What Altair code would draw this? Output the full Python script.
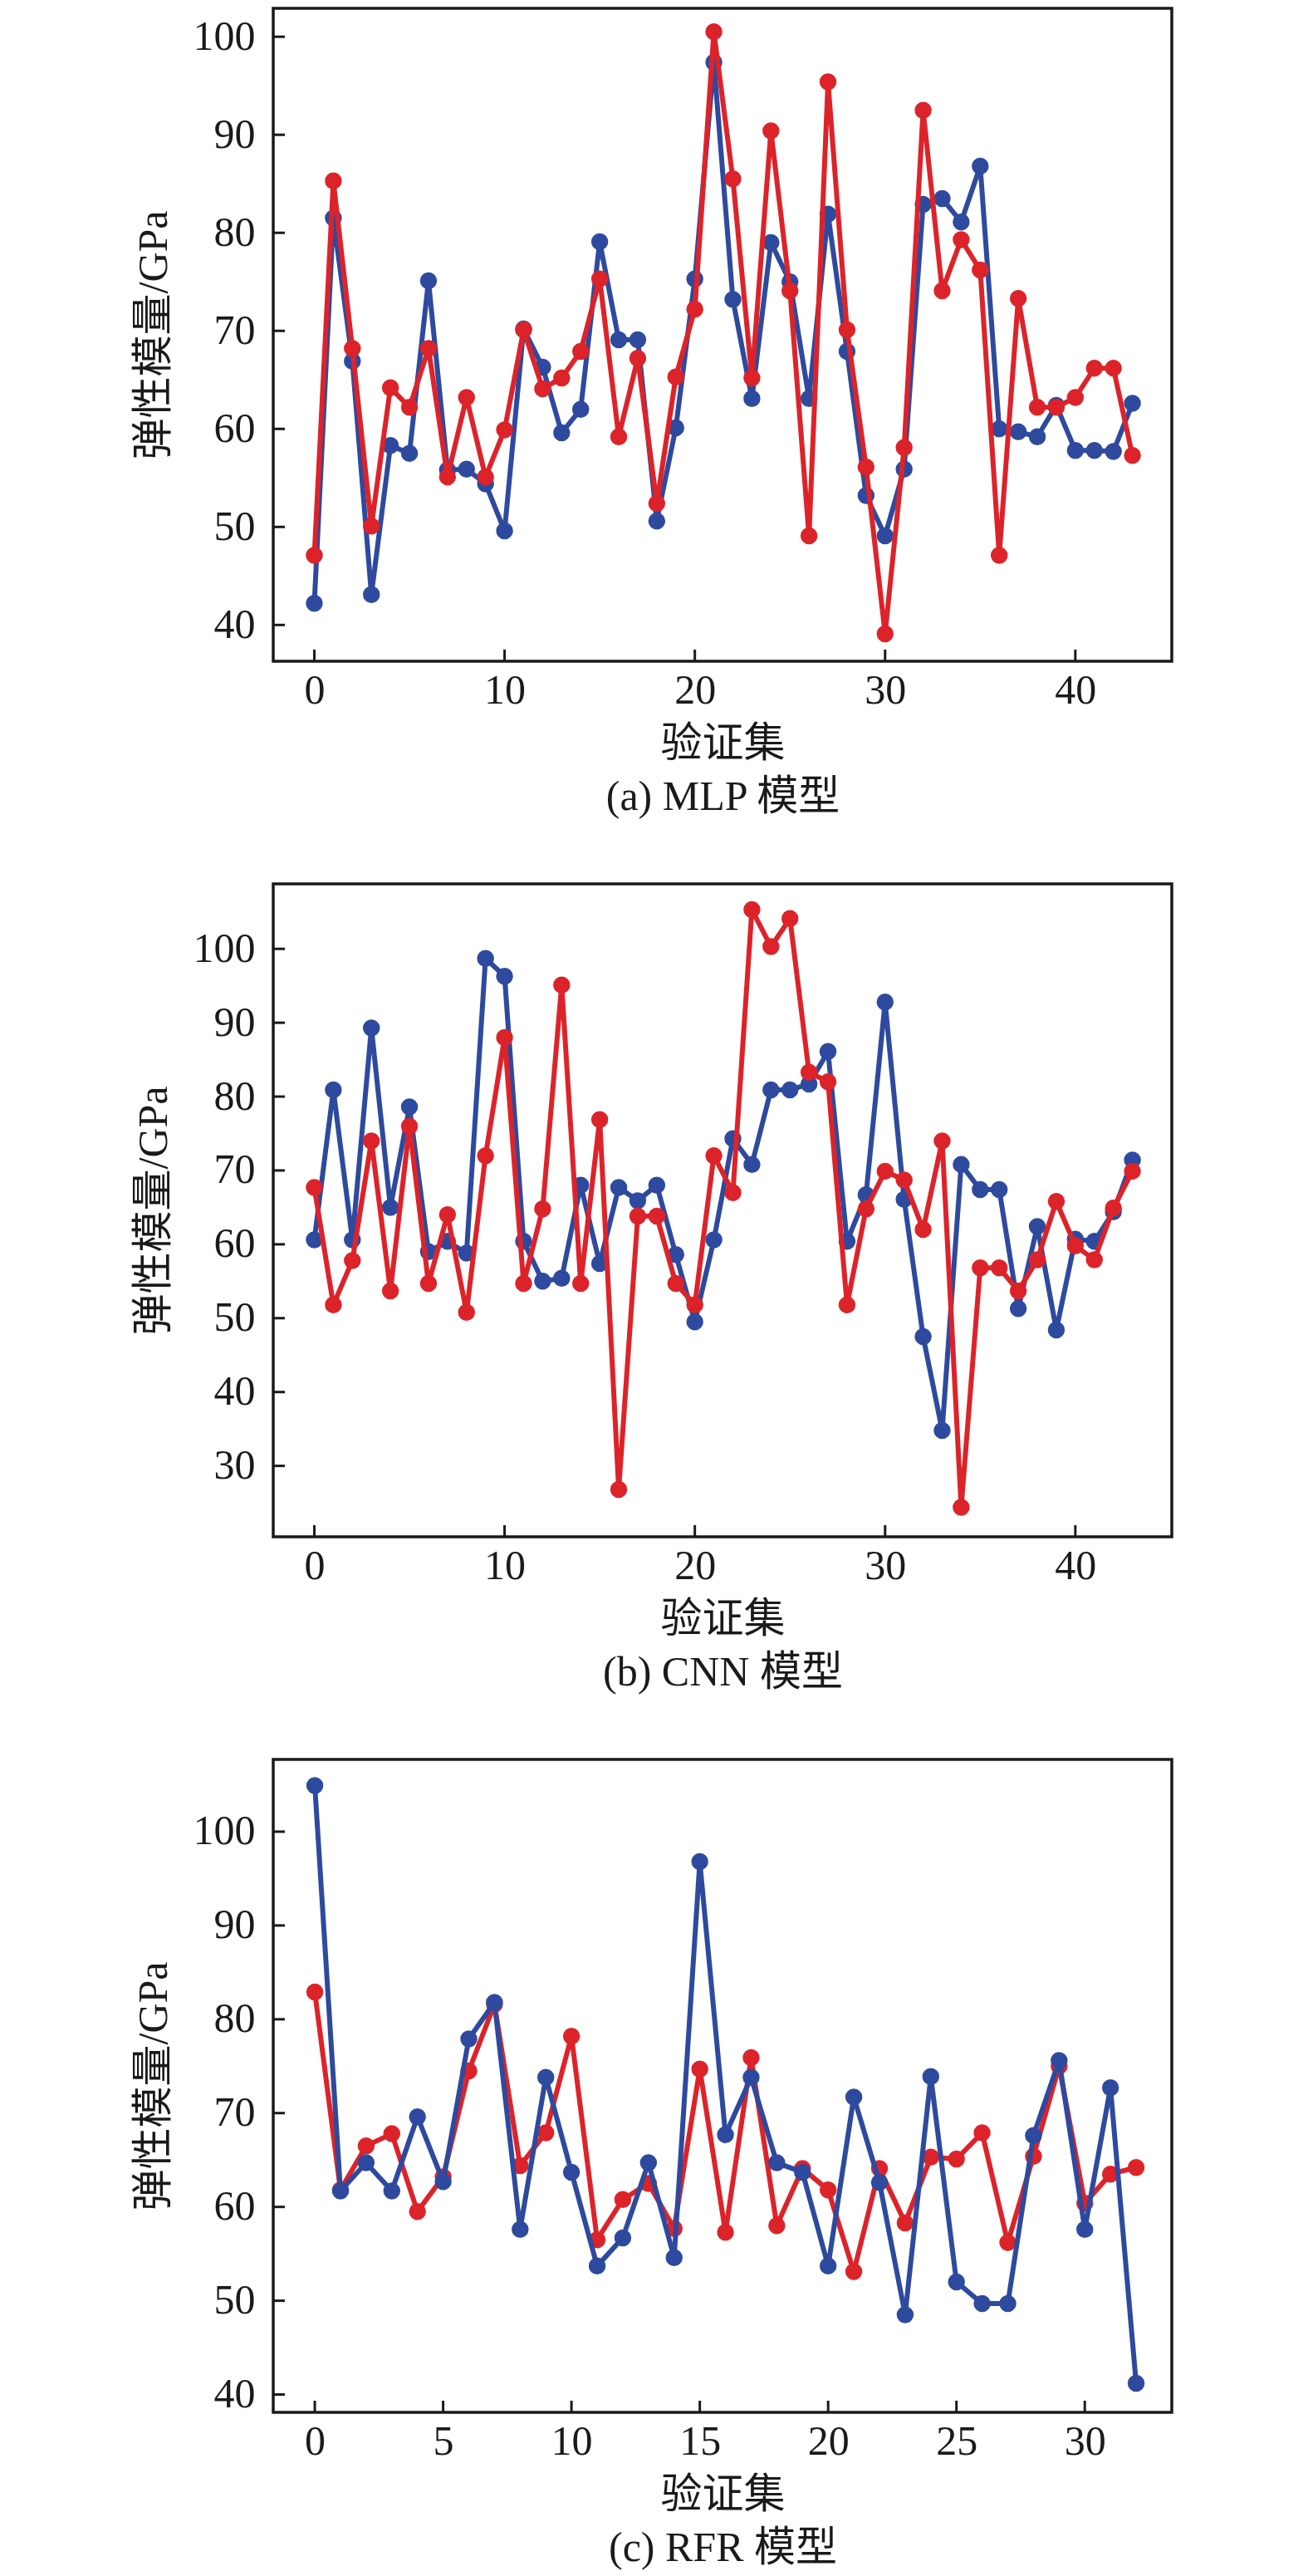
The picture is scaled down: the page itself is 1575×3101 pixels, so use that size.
import altair as alt
import pandas as pd

# ---------------- data ----------------
mlp_blue = [42.2, 81.5, 66.9, 43.1, 58.3, 57.5, 75.1, 55.8, 55.9, 54.4, 49.6, 70.2, 66.3, 59.6, 62.0,
            79.1, 69.1, 69.1, 50.6, 60.1, 75.3, 97.4, 73.2, 63.1, 79.0, 75.0, 63.1, 81.9, 67.9, 53.2,
            49.1, 55.9, 82.9, 83.5, 81.1, 86.8, 60.0, 59.7, 59.2, 62.4, 57.8, 57.8, 57.7, 62.6]
mlp_red = [47.1, 85.3, 68.2, 50.1, 64.2, 62.2, 68.2, 55.1, 63.2, 55.1, 59.9, 70.1, 64.1, 65.2, 67.9,
           75.3, 59.2, 67.2, 52.4, 65.3, 72.2, 100.5, 85.5, 65.2, 90.4, 74.1, 49.1, 95.4, 70.1, 56.1,
           39.1, 58.1, 92.5, 74.1, 79.3, 76.2, 47.1, 73.3, 62.2, 62.2, 63.2, 66.2, 66.2, 57.3]

cnn_blue = [60.6, 80.9, 60.6, 89.3, 65.0, 78.6, 59.0, 60.4, 58.8, 98.7, 96.3, 60.4, 55.0, 55.4, 68.0,
            57.4, 67.7, 65.9, 68.0, 58.6, 49.5, 60.6, 74.3, 70.8, 80.9, 80.9, 81.7, 86.1, 60.4, 66.7,
            92.8, 66.1, 47.5, 34.8, 70.8, 67.4, 67.4, 51.3, 62.4, 48.4, 60.7, 60.4, 64.4, 71.4]
cnn_red = [67.7, 51.8, 57.8, 74.0, 53.7, 76.0, 54.7, 64.0, 50.8, 72.0, 88.0, 54.7, 64.8, 95.1, 54.7,
           76.9, 26.8, 63.8, 63.8, 54.7, 51.8, 72.0, 67.0, 105.3, 100.3, 104.1, 83.3, 82.0, 51.8, 64.8,
           69.9, 68.7, 62.0, 74.0, 24.4, 56.8, 56.8, 53.7, 57.9, 65.8, 59.8, 57.9, 64.9, 69.9]

rfr_blue = [104.9, 61.7, 64.7, 61.7, 69.6, 62.7, 77.9, 81.8, 57.6, 73.8, 63.7, 53.7, 56.7, 64.7, 54.6,
            96.8, 67.7, 73.8, 64.7, 63.7, 53.7, 71.7, 62.6, 48.5, 73.9, 52.0, 49.7, 49.7, 67.6, 75.6,
            57.6, 72.7, 41.2]
rfr_red = [82.9, 61.8, 66.5, 67.8, 59.5, 63.2, 74.5, 81.6, 64.4, 67.9, 78.2, 56.5, 60.8, 62.5, 57.7,
           74.7, 57.3, 75.9, 58.0, 64.1, 61.8, 53.1, 64.1, 58.3, 65.3, 65.1, 67.9, 56.2, 65.4, 75.0,
           60.4, 63.5, 64.2]

y_ticks_a = [40, 50, 60, 70, 80, 90, 100]
y_ticks_b = [30, 40, 50, 60, 70, 80, 90, 100]
y_ticks_c = [40, 50, 60, 70, 80, 90, 100]
x_ticks_ab = [0, 10, 20, 30, 40]
x_ticks_c = [0, 5, 10, 15, 20, 25, 30]

captions = ["(a) MLP 模型", "(b) CNN 模型", "(c) RFR 模型"]
x_title = "验证集"
y_title = "弹性模量/GPa"

BLUE = "#2E4A9E"
RED = "#DD232A"
INK = "#1a1a1a"
FONT = "Liberation Serif, Noto Sans CJK SC"

W, H = 1082, 786


def panel(blue, red, yticks, xticks, xdom, ydom, caption, red_on_top=True):
    xs = alt.Scale(domain=xdom, nice=False, zero=False)
    ys = alt.Scale(domain=ydom, nice=False, zero=False)
    xaxis = alt.Axis(values=xticks, title=[x_title, caption], grid=False, ticks=False, tickSize=0,
                     domain=False, labelFontSize=50, labelPadding=10, labelFont=FONT,
                     titleFont=FONT, titleFontSize=50, titleFontWeight="normal",
                     titleLineHeight=64, titlePadding=14, labelColor=INK, titleColor=INK,
                     labelFlush=False)
    yaxis = alt.Axis(values=yticks, title=y_title, grid=False, ticks=False, tickSize=0,
                     domain=False, labelFontSize=50, labelPadding=22, labelFont=FONT,
                     titleFont=FONT, titleFontSize=50, titleFontWeight="normal",
                     titlePadding=22, labelColor=INK, titleColor=INK, labelFlush=False)

    def series(vals, color, first):
        df = pd.DataFrame({"idx": list(range(len(vals))), "val": vals})
        base = alt.Chart(df)
        if first:
            x = alt.X("idx:Q", scale=xs, axis=xaxis)
            y = alt.Y("val:Q", scale=ys, axis=yaxis)
        else:
            x = alt.X("idx:Q", scale=xs)
            y = alt.Y("val:Q", scale=ys)
        line = base.mark_line(color=color, strokeWidth=6, clip=True).encode(x=x, y=y)
        pts = base.mark_circle(color=color, size=420, opacity=1, clip=True).encode(x=x, y=y)
        return [line, pts]

    if red_on_top:
        layers = series(blue, BLUE, True) + series(red, RED, False)
    else:
        layers = series(red, RED, True) + series(blue, BLUE, False)

    ytk = pd.DataFrame({"v": yticks, "x0": [xdom[0]] * len(yticks)})
    xtk = pd.DataFrame({"v": xticks, "y0": [ydom[0]] * len(xticks)})
    ytick_mark = alt.Chart(ytk).mark_tick(orient="horizontal", size=28, thickness=3,
                                          color=INK, clip=True, opacity=1).encode(
        x=alt.X("x0:Q", scale=xs), y=alt.Y("v:Q", scale=ys))
    xtick_mark = alt.Chart(xtk).mark_tick(orient="vertical", size=28, thickness=3,
                                          color=INK, clip=True, opacity=1).encode(
        x=alt.X("v:Q", scale=xs), y=alt.Y("y0:Q", scale=ys))

    return alt.layer(*layers, ytick_mark, xtick_mark).properties(
        width=W, height=H,
        view=alt.ViewBackground(stroke=INK, strokeWidth=3.5, fill="white"))


pa = panel(mlp_blue, mlp_red, y_ticks_a, x_ticks_ab, [-2.16, 45.07], [36.3, 102.9], captions[0], True)
pb = panel(cnn_blue, cnn_red, y_ticks_b, x_ticks_ab, [-2.16, 45.07], [20.4, 108.8], captions[1], True)
pc = panel(rfr_blue, rfr_red, y_ticks_c, x_ticks_c, [-1.62, 33.39], [38.1, 107.7], captions[2], False)

chart = alt.vconcat(pa, pb, pc, spacing=76).properties(
    padding={"left": 150, "top": 0, "right": 5, "bottom": 5}
).configure_view(stroke=INK, strokeWidth=3.5).configure(background="white")

chart.save("out.html", embed_options={"renderer": "svg", "actions": False})
